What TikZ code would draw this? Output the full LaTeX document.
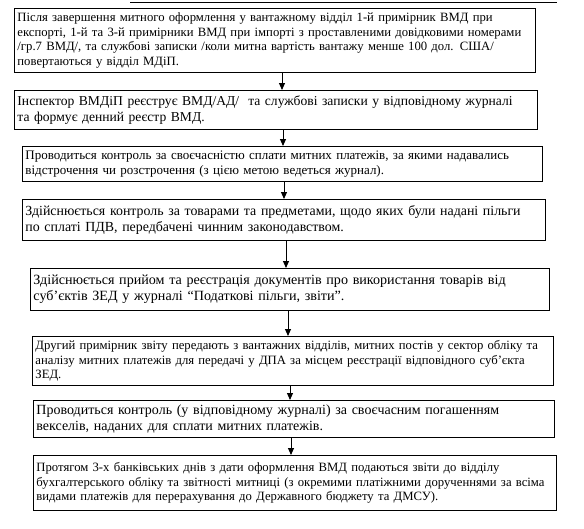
\documentclass[tikz,border=0pt]{standalone}
\usepackage{fontspec}
\setmainfont{Liberation Serif}
\usetikzlibrary{arrows.meta}

\begin{document}
\begin{tikzpicture}[x=1pt, y=-1pt,
        stepbox/.style={draw, line width=0.9pt, anchor=north west, align=left, inner xsep=3pt, inner ysep=2pt},
        arr/.style={-{Triangle[length=7pt,width=6pt]}, line width=0.9pt}]
    \useasboundingbox (0,0) rectangle (584,528);
    \draw [line width=0.9pt] (130,2) -- (557,2);
    \node [stepbox, text width=515pt, minimum height=64pt, font=\fontsize{12.7}{14.5}\selectfont] (b1) at (14,8)
        {Після завершення митного оформлення у вантажному відділ 1-й примірник ВМД при\\
         експорті, 1-й та 3-й примірники ВМД при імпорті з проставленими довідковими номерами\\
         /гр.7 ВМД/, та службові записки /коли митна вартість вантажу менше 100 дол. США/\\
         повертаються у відділ МДіП.};
    \node [stepbox, text width=517pt, minimum height=39pt, font=\fontsize{13.6}{16}\selectfont] (b2) at (14,90)
        {Інспектор ВМДіП реєструє ВМД/АД/\ \ та службові записки у відповідному журналі\\
         та формує денний реєстр ВМД.};
    \node [stepbox, text width=514pt, minimum height=35pt, font=\fontsize{13}{15}\selectfont] (b3) at (22,146)
        {Проводиться контроль за своєчасністю сплати митних платежів, за якими надавались\\
         відстрочення чи розстрочення (з цією метою ведеться журнал).};
    \node [stepbox, text width=517pt, minimum height=41pt, font=\fontsize{13.9}{16}\selectfont] (b4) at (22,199)
        {Здійснюється контроль за товарами та предметами, щодо яких були надані пільги\\
         по сплаті ПДВ, передбачені чинним законодавством.};
    \node [stepbox, text width=513pt, minimum height=42pt, font=\fontsize{14.1}{16}\selectfont] (b5) at (30,268)
        {Здійснюється прийом та реєстрація документів про використання товарів від\\
         суб’єктів ЗЕД у журналі “Податкові пільги, звіти”.};
    \node [stepbox, text width=515pt, minimum height=49pt, font=\fontsize{12.7}{14.5}\selectfont] (b6) at (32,336)
        {Другий примірник звіту передають з вантажних відділів, митних постів у сектор обліку та\\
         аналізу митних платежів для передачі у ДПА за місцем реєстрації відповідного суб’єкта\\
         ЗЕД.};
    \node [stepbox, text width=515pt, minimum height=37pt, font=\fontsize{14}{16}\selectfont] (b7) at (33,400)
        {Проводиться контроль (у відповідному журналі) за своєчасним погашенням\\
         векселів, наданих для сплати митних платежів.};
    \node [stepbox, text width=517pt, minimum height=55pt, font=\fontsize{12.7}{14.5}\selectfont] (b8) at (33,455)
        {Протягом 3-х банківських днів з дати оформлення ВМД подаються звіти до відділу\\
         бухгалтерського обліку та звітності митниці (з окремими платіжними дорученнями за всіма\\
         видами платежів для перерахування до Державного бюджету та ДМСУ).};
    % arrows between the steps
    \foreach \a/\b/\x in {b1/b2/282, b2/b3/283, b3/b4/284, b4/b5/286, b5/b6/288, b6/b7/290, b7/b8/291} {
        \coordinate (ax) at (\x,0);
        \draw [arr] (\a.south -| ax) -- (\b.north -| ax);
    }
\end{tikzpicture}
\end{document}
